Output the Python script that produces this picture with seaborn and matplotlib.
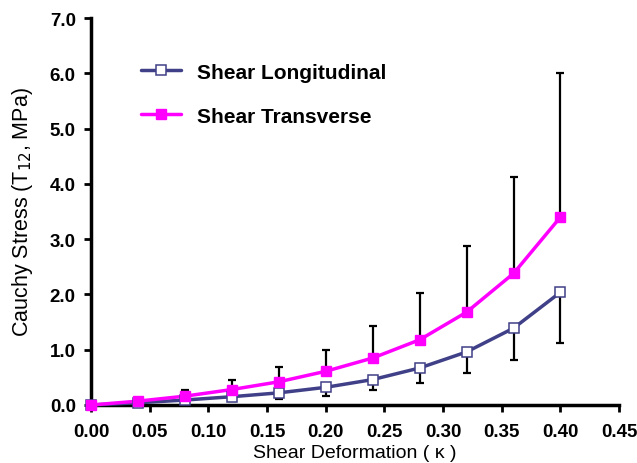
import numpy as np
import pandas as pd
import matplotlib
matplotlib.use("Agg")
import matplotlib.pyplot as plt
import seaborn as sns
from matplotlib.lines import Line2D

kappa = [0.00, 0.04, 0.08, 0.12, 0.16, 0.20, 0.24, 0.28, 0.32, 0.36, 0.40]
long_mean = [0.00, 0.04, 0.09, 0.15, 0.22, 0.32, 0.46, 0.67, 0.96, 1.39, 2.04]
long_err = [0.00, 0.02, 0.05, 0.08, 0.11, 0.15, 0.19, 0.27, 0.38, 0.57, 0.91]
trans_mean = [0.00, 0.07, 0.16, 0.28, 0.42, 0.61, 0.85, 1.18, 1.68, 2.38, 3.40]
trans_err = [0.00, 0.04, 0.12, 0.18, 0.27, 0.39, 0.58, 0.84, 1.19, 1.74, 2.60]
series_names = ["Shear Longitudinal", "Shear Transverse"]
x_ticks = [0.00, 0.05, 0.10, 0.15, 0.20, 0.25, 0.30, 0.35, 0.40, 0.45]
y_ticks = [0.0, 1.0, 2.0, 3.0, 4.0, 5.0, 6.0, 7.0]

navy = "#404088"
magenta = "#FF00FF"

sns.set_style("ticks")
plt.rcParams['font.family'] = ['Liberation Sans', 'DejaVu Sans']
plt.rcParams['text.color'] = 'black'
plt.rcParams['axes.labelcolor'] = 'black'

df = pd.DataFrame({
    "kappa": kappa * 2,
    "stress": long_mean + trans_mean,
    "series": [series_names[0]] * len(kappa) + [series_names[1]] * len(kappa),
})

fig = plt.figure(figsize=(6.37, 4.64), dpi=100)
ax = fig.add_axes([0.143, 0.125, 0.829, 0.834])

# error bars
ax.errorbar(kappa, long_mean, yerr=[long_err, [0] * len(kappa)], fmt='none',
            ecolor='black', elinewidth=1.6, capsize=3, capthick=1.6, zorder=2, clip_on=False)
ax.errorbar(kappa, trans_mean, yerr=[[0] * len(kappa), trans_err], fmt='none',
            ecolor='black', elinewidth=1.6, capsize=3, capthick=1.6, zorder=2, clip_on=False)

sns.lineplot(data=df, x="kappa", y="stress", hue="series",
             palette={series_names[0]: navy, series_names[1]: magenta},
             linewidth=2.5, legend=False, ax=ax, zorder=3)
for l in ax.lines:
    l.set_clip_on(False)

ax.plot(kappa, long_mean, linestyle='none', marker='s', markersize=7,
        markerfacecolor='white', markeredgecolor=navy, markeredgewidth=1.1,
        zorder=4, clip_on=False)
ax.plot(kappa, trans_mean, linestyle='none', marker='s', markersize=7.5,
        markerfacecolor=magenta, markeredgecolor=magenta, zorder=5, clip_on=False)

ax.set_xlim(0, 0.45)
ax.set_ylim(0, 7.0)
ax.set_xticks(x_ticks)
ax.set_yticks(y_ticks)
ax.set_xticklabels([f"{t:.2f}" for t in x_ticks], fontsize=13.5, fontweight='bold')
ax.set_yticklabels([f"{t:.1f}" for t in y_ticks], fontsize=13.5, fontweight='bold')
ax.tick_params(axis='both', direction='out', length=5, width=2, colors='black')
ax.tick_params(axis='x', pad=8)
ax.tick_params(axis='y', pad=6)
for s in ['left', 'bottom']:
    ax.spines[s].set_linewidth(2.5)
    ax.spines[s].set_color('black')
sns.despine(ax=ax)

ax.set_xlabel("Shear Deformation ( κ )", fontsize=14, labelpad=2.5, color='black')
ax.set_ylabel("Cauchy Stress (T$_{12}$, MPa)", fontsize=15.5, labelpad=11, color='black')

handles = [
    Line2D([0], [0], color=navy, linewidth=2.5, marker='s', markersize=7,
           markerfacecolor='white', markeredgecolor=navy, markeredgewidth=1.1),
    Line2D([0], [0], color=magenta, linewidth=2.5, marker='s', markersize=7.5,
           markerfacecolor=magenta, markeredgecolor=magenta),
]
leg = ax.legend(handles, series_names, loc='upper left', bbox_to_anchor=(0.059, 0.933),
                frameon=False, handlelength=1.9, handletextpad=0.8, labelspacing=1.2,
                prop={'weight': 'bold', 'size': 15})
for t in leg.get_texts():
    t.set_color('black')

fig.savefig("out.png", dpi=100)
